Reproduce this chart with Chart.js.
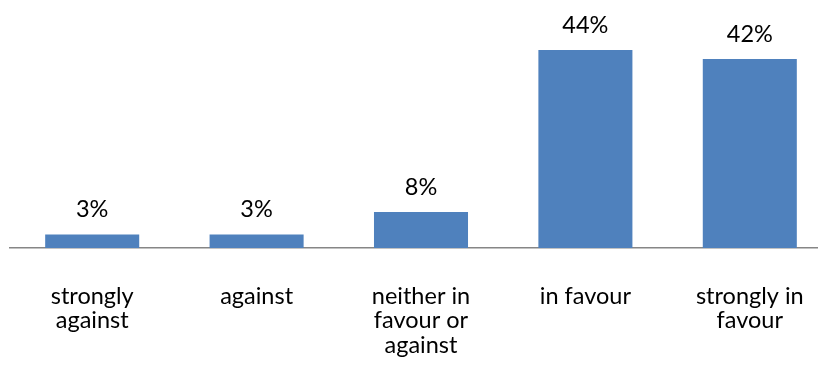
<!DOCTYPE html>
<html>
<head>
<meta charset="utf-8">
<script src="https://cdn.jsdelivr.net/npm/chart.js@4/dist/chart.umd.min.js"></script>
<style>
  html, body { margin: 0; padding: 0; background: #fff; overflow: hidden; }
  #wrap { width: 818px; height: 369px; overflow: hidden; }
</style>
</head>
<body>
<div id="wrap"><canvas id="chart" width="832" height="369"></canvas></div>
<script>
// categories (multi-line labels) and shares in percent
const categories = [
  ['strongly', 'against'],
  ['against'],
  ['neither in', 'favour or', 'against'],
  ['in favour'],
  ['strongly in', 'favour']
];
const shares = [3, 3, 8, 44, 42];

const FONT = 'Lato, "Open Sans", sans-serif';

// draws "nn%" above each bar
const valueLabels = {
  id: 'valueLabels',
  afterDatasetsDraw(chart) {
    const ctx = chart.ctx;
    const meta = chart.getDatasetMeta(0);
    ctx.save();
    ctx.font = '23.5px ' + FONT;
    ctx.fillStyle = '#000';
    ctx.textAlign = 'center';
    ctx.textBaseline = 'middle';
    meta.data.forEach((bar, i) => {
      ctx.fillText(shares[i] + '%', bar.x, bar.y - 25);
    });
    ctx.restore();
  }
};

new Chart(document.getElementById('chart'), {
  type: 'bar',
  data: {
    labels: categories,
    datasets: [{
      data: shares,
      backgroundColor: '#4F81BD',
      borderWidth: 0,
      barPercentage: 0.572,
      categoryPercentage: 1
    }]
  },
  options: {
    responsive: false,
    animation: false,
    layout: { padding: { top: 23, left: 10, right: 0, bottom: 0 } },
    plugins: { legend: { display: false }, tooltip: { enabled: false } },
    scales: {
      y: { display: false, min: 0, max: 50 },
      x: {
        afterFit(scale) {
          scale.height = 121;
          scale.paddingLeft = 0;
          scale.paddingRight = 0;
        },
        grid: { display: false, drawTicks: false },
        border: { display: true, color: '#868686', width: 1.5 },
        ticks: {
          color: '#000',
          padding: 36,
          maxRotation: 0,
          autoSkip: false,
          font: { family: FONT, size: 23.5, lineHeight: 1.043 }
        }
      }
    }
  },
  plugins: [valueLabels]
});
</script>
</body>
</html>
